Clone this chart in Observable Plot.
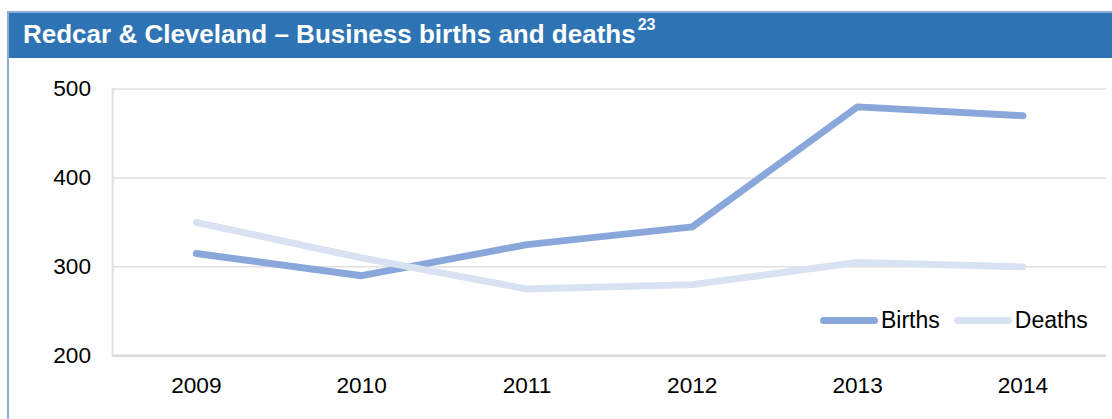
<!DOCTYPE html>
<html>
<head>
<meta charset="utf-8">
<script src="https://cdn.jsdelivr.net/npm/d3@7"></script>
<script src="https://cdn.jsdelivr.net/npm/@observablehq/plot@0.6"></script>
<style>
  html, body { margin: 0; padding: 0; background: #fff; }
  #wrap { position: relative; width: 1112px; height: 419px; overflow: hidden; font-family: Arial, "Liberation Sans", sans-serif; }
  #panel { position: absolute; left: 7px; top: 11px; width: 1120px; height: 420px; border: 2px solid #8faadc; box-sizing: border-box; }
  #titlebar { position: absolute; left: 9px; top: 13px; width: 1120px; height: 45px; background: #2e74b5; }
  #title { position: absolute; left: 23px; top: 17px; color: #fff; font-weight: bold; font-size: 26px; line-height: 34px; white-space: nowrap; }
  #title sup { font-size: 16px; position: relative; top: -3px; vertical-align: super; line-height: 0; margin-left: 2px; }
  #chart { position: absolute; left: 0; top: 0; }
  #legend { position: absolute; top: 305px; left: 820px; font-size: 23px; line-height: 30px; color: #000; display: flex; align-items: center; white-space: nowrap; }
  .sw { display: inline-block; width: 58px; height: 7px; border-radius: 3.5px; margin-right: 3px; }
  .item { display: flex; align-items: center; margin-right: 14px; }
</style>
</head>
<body>
<div id="wrap">
  <div id="panel"></div>
  <div id="titlebar"></div>
  <div id="title">Redcar &amp; Cleveland – Business births and deaths<sup>23</sup></div>
  <div id="chart"></div>
  <div id="legend"></div>
</div>
<script>
const years = ["2009", "2010", "2011", "2012", "2013", "2014"];
const births = [315, 290, 325, 345, 480, 470];
const deaths = [350, 310, 275, 280, 305, 300];
const yTicks = [200, 300, 400, 500];
const seriesNames = ["Births", "Deaths"];
const seriesColors = ["#8aa7db", "#d8e2f3"];

const rows = [];
years.forEach((y, i) => {
  rows.push({year: y, value: births[i], series: "Births"});
  rows.push({year: y, value: deaths[i], series: "Deaths"});
});

const chart = Plot.plot({
  width: 1130,
  height: 419,
  marginLeft: 114,
  marginRight: 6,
  marginTop: 90,
  marginBottom: 58,
  style: {fontFamily: "Arial, 'Liberation Sans', sans-serif", fontSize: "23px", color: "#000", background: "transparent", overflow: "visible"},
  x: {type: "point", domain: years, padding: 0.5, label: null},
  y: {domain: [200, 500], ticks: yTicks, label: null},
  color: {domain: seriesNames, range: seriesColors},
  marks: [
    Plot.gridY(yTicks.filter(d => d !== 200), {stroke: "#e0e0e0", strokeOpacity: 1, strokeWidth: 1.5}),
    Plot.frame({anchor: "left", stroke: "#dce1ea", strokeWidth: 2}),
    Plot.ruleY([200], {stroke: "#d9d9d9", strokeWidth: 2.5}),
    Plot.axisY(yTicks, {tickSize: 0, tickPadding: 22, fontSize: 23, fill: "#000"}),
    Plot.axisX(years, {tickSize: 0, tickPadding: 22, fontSize: 23, fill: "#000"}),
    Plot.lineY(rows, {x: "year", y: "value", stroke: "series", z: "series", strokeWidth: 7, strokeLinecap: "round", strokeLinejoin: "round"})
  ]
});
document.getElementById("chart").appendChild(chart);

const legend = document.getElementById("legend");
seriesNames.forEach((n, i) => {
  const it = document.createElement("div");
  it.className = "item";
  const sw = document.createElement("span");
  sw.className = "sw";
  sw.style.background = seriesColors[i];
  it.appendChild(sw);
  it.appendChild(document.createTextNode(n));
  legend.appendChild(it);
});
</script>
</body>
</html>
